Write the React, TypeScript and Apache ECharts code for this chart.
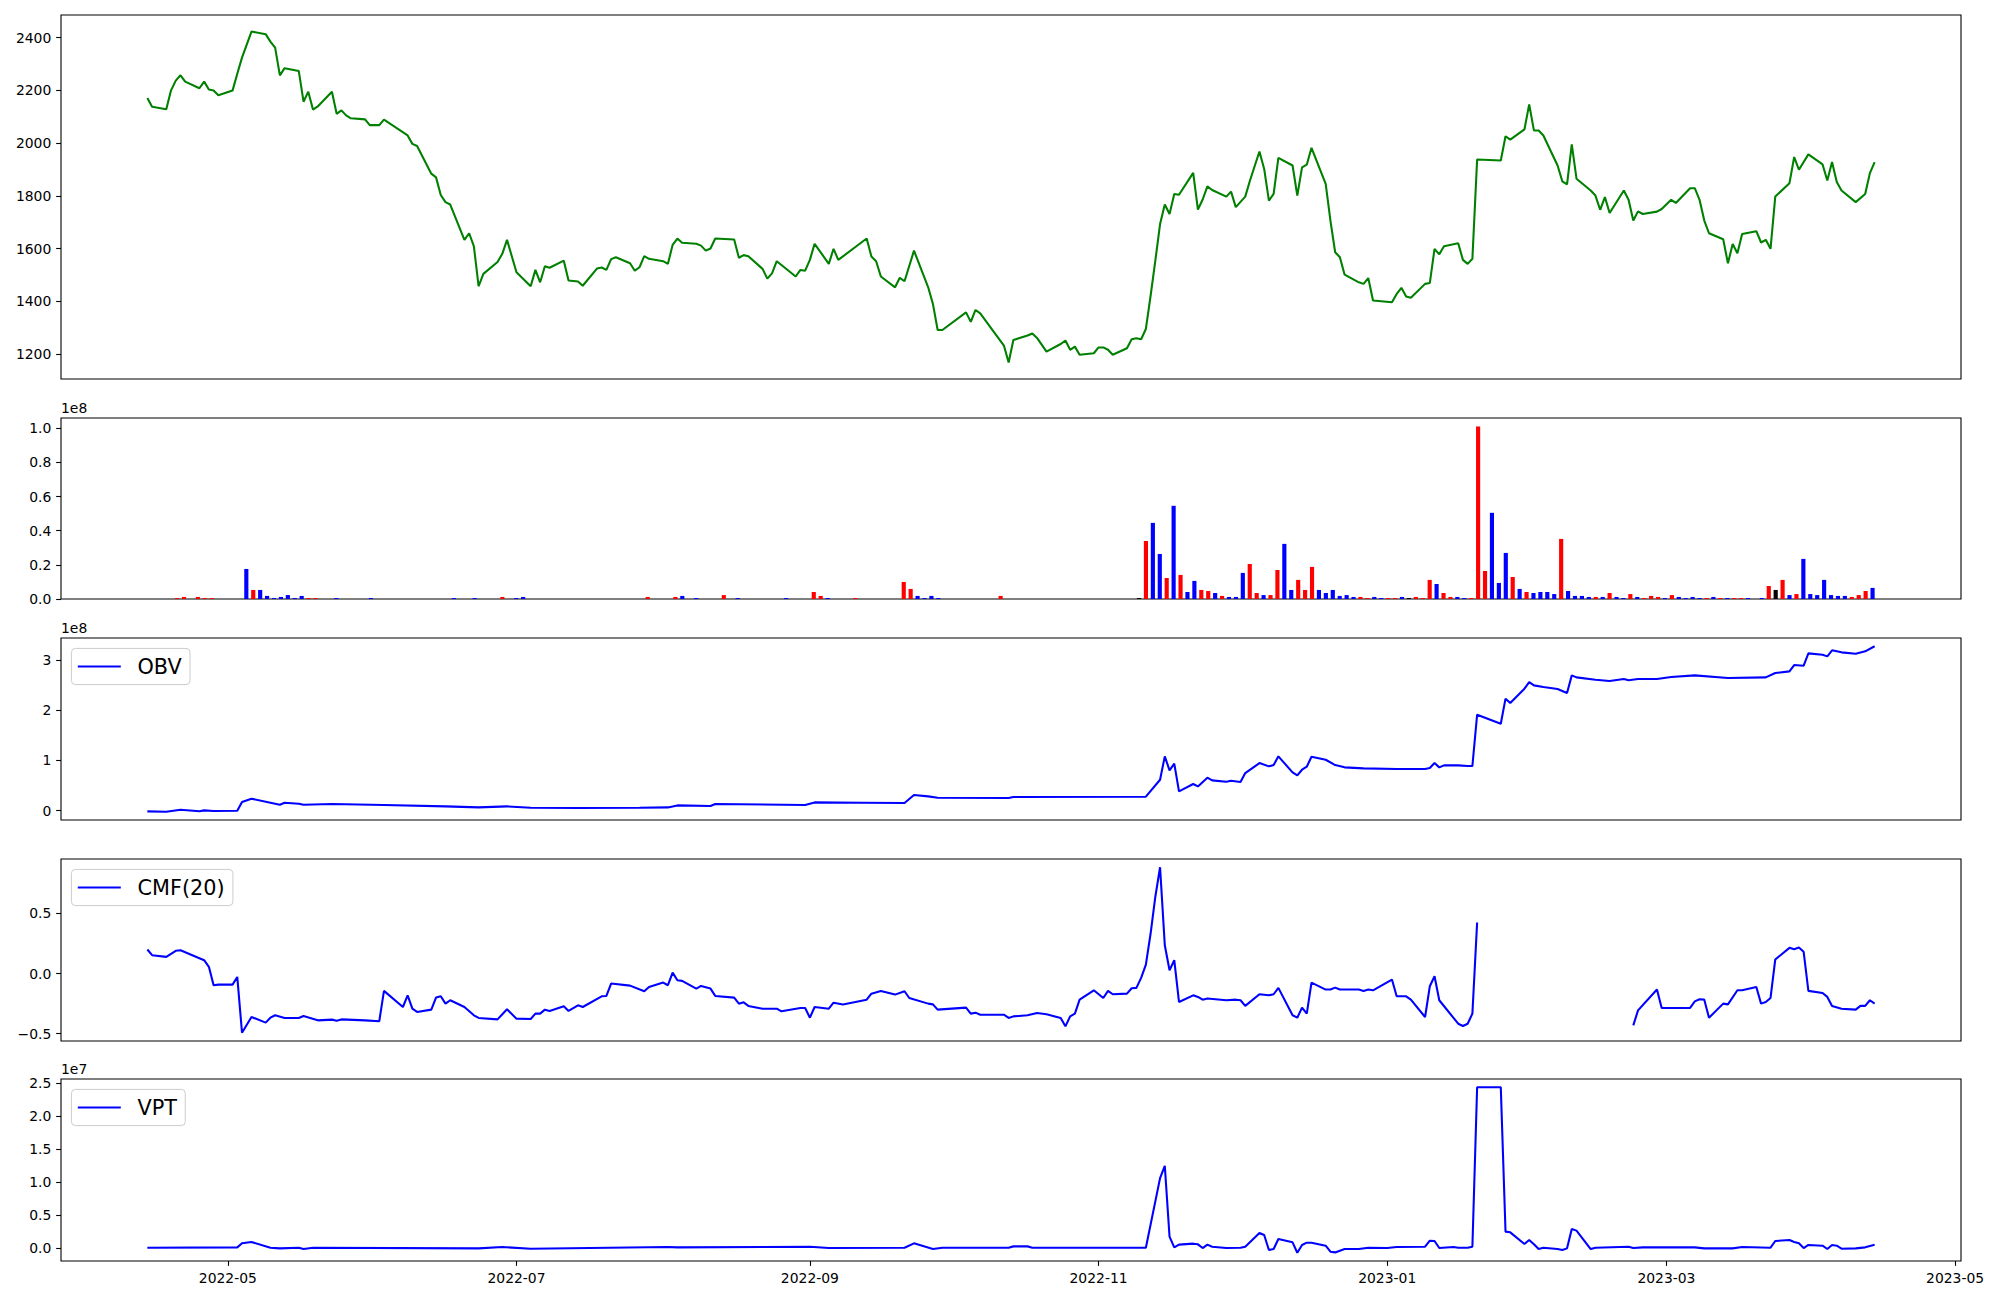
import React, { useEffect, useRef } from 'react';
import * as echarts from 'echarts';

// ---------- data (x = calendar days since START_DATE; volume x = trading-day index) ----------
const START_DATE = '2022-04-14';
const TRADING_DAYS = 250;
const xTickLabels = ['2022-05', '2022-07', '2022-09', '2022-11', '2023-01', '2023-03', '2023-05'];
const priceTicks = [1200, 1400, 1600, 1800, 2000, 2200, 2400];
const volumeTicks = [0, 0.2, 0.4, 0.6, 0.8, 1.0];
const obvTicks = [0, 1, 2, 3];
const cmfTicks = [-0.5, 0, 0.5];
const vptTicks = [0, 0.5, 1, 1.5, 2, 2.5];

const pricePoints: [number, number][] = [
  [0, 2171], [1, 2138], [4, 2128], [5, 2200], [6, 2237], [7, 2257], [8, 2233], [11, 2208], [12, 2233], [13, 2203],
  [14, 2199], [15, 2181], [18, 2199], [19, 2263], [20, 2324], [22, 2423], [25, 2413], [26, 2385], [27, 2362], [28, 2257],
  [29, 2284], [32, 2273], [33, 2157], [34, 2195], [35, 2127], [36, 2139], [39, 2195], [40, 2111], [41, 2124], [42, 2105],
  [43, 2094], [46, 2090], [47, 2068], [49, 2068], [50, 2089], [55, 2029], [56, 1997], [57, 1989], [60, 1884], [61, 1870],
  [62, 1803], [63, 1776], [64, 1767], [67, 1633], [68, 1658], [69, 1608], [70, 1457], [71, 1504], [74, 1549], [75, 1580],
  [76, 1633], [78, 1510], [81, 1457], [82, 1519], [83, 1472], [84, 1533], [85, 1527], [88, 1554], [89, 1479], [91, 1475],
  [92, 1459], [95, 1524], [96, 1528], [97, 1519], [98, 1560], [99, 1567], [102, 1544], [103, 1516], [104, 1529], [105, 1571],
  [106, 1561], [109, 1552], [110, 1542], [111, 1614], [112, 1638], [113, 1622], [116, 1618], [117, 1611], [118, 1592], [119, 1600],
  [120, 1638], [124, 1634], [125, 1565], [126, 1575], [127, 1571], [130, 1523], [131, 1486], [132, 1506], [133, 1552], [137, 1494],
  [138, 1519], [139, 1516], [140, 1557], [141, 1618], [144, 1542], [145, 1599], [146, 1557], [152, 1638], [153, 1570], [154, 1552],
  [155, 1494], [158, 1453], [159, 1489], [160, 1476], [162, 1592], [165, 1453], [166, 1390], [167, 1291], [168, 1291], [173, 1358],
  [174, 1322], [175, 1367], [176, 1354], [181, 1232], [182, 1168], [183, 1253], [186, 1270], [187, 1278], [188, 1261], [190, 1209],
  [193, 1238], [194, 1251], [195, 1216], [196, 1228], [197, 1197], [200, 1203], [201, 1225], [202, 1225], [203, 1216], [204, 1197],
  [207, 1222], [208, 1256], [209, 1260], [210, 1256], [211, 1295], [212, 1421], [213, 1554], [214, 1693], [215, 1767], [216, 1731],
  [217, 1807], [218, 1804], [221, 1887], [222, 1748], [223, 1786], [224, 1836], [225, 1822], [228, 1797], [229, 1816], [230, 1757],
  [232, 1797], [233, 1858], [235, 1968], [236, 1902], [237, 1782], [238, 1807], [239, 1944], [242, 1915], [243, 1801], [244, 1908],
  [245, 1918], [246, 1982], [249, 1845], [250, 1706], [251, 1586], [252, 1567], [253, 1501], [256, 1472], [257, 1466], [258, 1488],
  [259, 1403], [263, 1396], [264, 1428], [265, 1451], [266, 1418], [267, 1413], [270, 1466], [271, 1469], [272, 1599], [273, 1578],
  [274, 1609], [277, 1620], [278, 1557], [279, 1542], [280, 1561], [281, 1938], [286, 1934], [287, 2026], [288, 2013], [291, 2052],
  [292, 2147], [293, 2048], [294, 2048], [295, 2029], [298, 1915], [299, 1855], [300, 1843], [301, 1995], [302, 1865], [305, 1820],
  [306, 1801], [307, 1747], [308, 1795], [309, 1735], [312, 1820], [313, 1785], [314, 1706], [315, 1741], [316, 1731], [319, 1740],
  [320, 1750], [322, 1785], [323, 1773], [326, 1829], [327, 1829], [328, 1785], [329, 1706], [330, 1658], [333, 1635], [334, 1544],
  [335, 1617], [336, 1582], [337, 1655], [340, 1666], [341, 1623], [342, 1633], [343, 1599], [344, 1797], [347, 1848], [348, 1947],
  [349, 1899], [351, 1957], [354, 1919], [355, 1858], [356, 1928], [357, 1852], [358, 1820], [361, 1776], [363, 1807], [364, 1886],
  [365, 1928],
];

// volume in units of 1e8, keyed by trading-day index
const volumeUp: [number, number][] = [
  [4, 0.006], [5, 0.012], [7, 0.012], [8, 0.006], [9, 0.006], [15, 0.053], [23, 0.006], [24, 0.006], [51, 0.012], [72, 0.012],
  [76, 0.012], [83, 0.023], [96, 0.041], [97, 0.018], [102, 0.006], [109, 0.1], [110, 0.059], [123, 0.018], [144, 0.34], [147, 0.123],
  [149, 0.141], [152, 0.053], [153, 0.047], [155, 0.018], [159, 0.205], [160, 0.035], [162, 0.023], [163, 0.17], [166, 0.112], [167, 0.053],
  [168, 0.188], [175, 0.012], [176, 0.006], [179, 0.006], [180, 0.006], [183, 0.012], [184, 0.006], [185, 0.112], [187, 0.035], [188, 0.012],
  [191, 0.006], [192, 1.01], [193, 0.164], [197, 0.129], [199, 0.041], [204, 0.352], [209, 0.012], [211, 0.035], [214, 0.029], [216, 0.006],
  [217, 0.018], [218, 0.012], [220, 0.023], [225, 0.006], [227, 0.006], [229, 0.006], [230, 0.006], [234, 0.076], [236, 0.112], [238, 0.029],
  [246, 0.012], [247, 0.023], [248, 0.047],
];
const volumeDown: [number, number][] = [
  [14, 0.176], [16, 0.053], [17, 0.018], [18, 0.006], [19, 0.012], [20, 0.023], [21, 0.006], [22, 0.018], [27, 0.006], [32, 0.006],
  [44, 0.006], [47, 0.006], [53, 0.006], [54, 0.012], [77, 0.018], [79, 0.006], [85, 0.006], [92, 0.006], [98, 0.006], [111, 0.018],
  [112, 0.006], [113, 0.018], [114, 0.006], [145, 0.446], [146, 0.264], [148, 0.546], [150, 0.041], [151, 0.106], [154, 0.035], [156, 0.012],
  [157, 0.012], [158, 0.153], [161, 0.023], [164, 0.323], [165, 0.053], [169, 0.053], [170, 0.035], [171, 0.053], [172, 0.018], [173, 0.023],
  [174, 0.012], [177, 0.012], [178, 0.006], [181, 0.012], [186, 0.088], [189, 0.012], [190, 0.006], [194, 0.505], [195, 0.094], [196, 0.27],
  [198, 0.059], [200, 0.035], [201, 0.041], [202, 0.041], [203, 0.029], [205, 0.047], [206, 0.018], [207, 0.018], [208, 0.012], [210, 0.012],
  [212, 0.012], [213, 0.006], [215, 0.012], [219, 0.006], [221, 0.012], [222, 0.006], [223, 0.012], [224, 0.006], [226, 0.012], [228, 0.006],
  [231, 0.006], [233, 0.006], [237, 0.023], [239, 0.235], [240, 0.029], [241, 0.023], [242, 0.112], [243, 0.023], [244, 0.018], [245, 0.018],
  [249, 0.065],
];
const volumeFlat: [number, number][] = [[143, 0.006], [182, 0.006], [235, 0.053]];

// OBV in units of 1e8
const obvPoints: [number, number][] = [
  [0, -0.013], [4, -0.02], [7, 0.02], [11, -0.01], [12, 0.007], [14, -0.007], [19, 0], [20, 0.173], [22, 0.239], [28, 0.119],
  [29, 0.159], [32, 0.139], [33, 0.119], [39, 0.133], [50, 0.113], [63, 0.086], [70, 0.066], [76, 0.086], [81, 0.06], [91, 0.053],
  [104, 0.06], [110, 0.066], [112, 0.106], [119, 0.093], [120, 0.133], [139, 0.113], [141, 0.166], [151, 0.159], [160, 0.153], [162, 0.312],
  [165, 0.285], [167, 0.259], [182, 0.252], [183, 0.272], [211, 0.279], [214, 0.617], [215, 1.082], [216, 0.803], [217, 0.936], [218, 0.385],
  [221, 0.531], [222, 0.484], [224, 0.657], [225, 0.604], [228, 0.577], [229, 0.597], [231, 0.571], [232, 0.75], [235, 0.949], [237, 0.883],
  [238, 0.909], [239, 1.082], [242, 0.763], [243, 0.703], [244, 0.816], [245, 0.876], [246, 1.075], [249, 1.015], [251, 0.909], [253, 0.863],
  [257, 0.843], [264, 0.829], [270, 0.829], [271, 0.849], [272, 0.949], [273, 0.863], [274, 0.902], [277, 0.902], [279, 0.889], [280, 0.889],
  [281, 1.911], [286, 1.732], [287, 2.23], [288, 2.143], [291, 2.429], [292, 2.561], [293, 2.495], [295, 2.462], [298, 2.422], [300, 2.342],
  [301, 2.694], [302, 2.654], [306, 2.608], [309, 2.581], [312, 2.621], [313, 2.595], [315, 2.621], [319, 2.621], [322, 2.661], [327, 2.694],
  [334, 2.641], [342, 2.654], [344, 2.741], [347, 2.774], [348, 2.9], [350, 2.886], [351, 3.132], [354, 3.106], [355, 3.072], [356, 3.192],
  [358, 3.152], [361, 3.125], [363, 3.172], [365, 3.273],
];

// CMF(20): two segments (undefined values in between)
const cmfPointsA: [number, number][] = [
  [0, 0.2], [1, 0.153], [4, 0.139], [6, 0.189], [7, 0.194], [12, 0.111], [13, 0.056], [14, -0.097], [15, -0.092], [18, -0.092],
  [19, -0.028], [20, -0.492], [22, -0.361], [25, -0.408], [26, -0.367], [27, -0.347], [29, -0.369], [32, -0.369], [33, -0.353], [36, -0.389],
  [39, -0.383], [40, -0.392], [41, -0.381], [46, -0.389], [49, -0.397], [50, -0.144], [54, -0.278], [55, -0.181], [56, -0.292], [57, -0.319],
  [60, -0.3], [61, -0.2], [62, -0.189], [63, -0.25], [64, -0.222], [67, -0.278], [69, -0.347], [70, -0.369], [74, -0.381], [76, -0.297],
  [78, -0.375], [81, -0.378], [82, -0.333], [83, -0.333], [84, -0.3], [85, -0.311], [88, -0.272], [89, -0.311], [91, -0.264], [92, -0.278],
  [96, -0.189], [97, -0.186], [98, -0.083], [102, -0.1], [105, -0.147], [106, -0.111], [109, -0.075], [110, -0.097], [111, 0.008], [112, -0.056],
  [113, -0.061], [116, -0.125], [117, -0.103], [119, -0.125], [120, -0.186], [124, -0.2], [125, -0.25], [126, -0.239], [127, -0.269], [130, -0.292],
  [133, -0.292], [134, -0.314], [138, -0.286], [139, -0.286], [140, -0.367], [141, -0.278], [144, -0.292], [145, -0.242], [147, -0.258], [152, -0.217],
  [153, -0.167], [155, -0.144], [158, -0.175], [160, -0.147], [161, -0.203], [165, -0.25], [166, -0.256], [167, -0.3], [173, -0.283], [174, -0.333],
  [175, -0.325], [176, -0.342], [181, -0.342], [182, -0.369], [183, -0.356], [186, -0.347], [188, -0.328], [190, -0.339], [193, -0.369], [194, -0.439],
  [195, -0.356], [196, -0.333], [197, -0.217], [200, -0.139], [202, -0.203], [203, -0.144], [204, -0.172], [207, -0.167], [208, -0.122], [209, -0.119],
  [210, -0.036], [211, 0.075], [212, 0.333], [213, 0.639], [214, 0.884], [215, 0.236], [216, 0.028], [217, 0.111], [218, -0.236], [221, -0.181],
  [222, -0.194], [223, -0.217], [224, -0.208], [228, -0.222], [230, -0.217], [231, -0.222], [232, -0.269], [235, -0.172], [237, -0.181], [238, -0.172],
  [239, -0.119], [242, -0.347], [243, -0.367], [244, -0.283], [245, -0.333], [246, -0.075], [249, -0.133], [250, -0.133], [251, -0.117], [252, -0.133],
  [256, -0.133], [257, -0.144], [258, -0.133], [259, -0.139], [263, -0.05], [264, -0.189], [266, -0.189], [267, -0.217], [270, -0.361], [271, -0.106],
  [272, -0.022], [273, -0.222], [277, -0.417], [278, -0.436], [279, -0.417], [280, -0.333], [281, 0.425],
];
const cmfPointsB: [number, number][] = [
  [314, -0.431], [315, -0.306], [319, -0.133], [320, -0.286], [326, -0.286], [327, -0.231], [328, -0.214], [329, -0.217], [330, -0.367], [333, -0.25],
  [334, -0.256], [336, -0.139], [337, -0.139], [340, -0.111], [341, -0.25], [342, -0.236], [343, -0.203], [344, 0.117], [347, 0.214], [348, 0.203],
  [349, 0.217], [350, 0.181], [351, -0.144], [354, -0.161], [355, -0.194], [356, -0.269], [358, -0.292], [361, -0.3], [362, -0.269], [363, -0.269],
  [364, -0.222], [365, -0.25],
];

// VPT in units of 1e7
const vptPoints: [number, number][] = [
  [0, 0.01], [19, 0.015], [20, 0.076], [22, 0.096], [26, 0.01], [28, 0], [32, 0.01], [33, -0.01], [35, 0.01], [70, 0],
  [75, 0.02], [81, -0.005], [110, 0.02], [112, 0.015], [140, 0.025], [144, 0.005], [160, 0.01], [162, 0.076], [166, -0.01], [168, 0.01],
  [182, 0.01], [183, 0.03], [186, 0.03], [187, 0.01], [211, 0.01], [214, 1.061], [215, 1.247], [216, 0.177], [217, 0.015], [218, 0.056],
  [221, 0.071], [222, 0.061], [223, 0.005], [224, 0.056], [225, 0.025], [228, 0.005], [231, 0.01], [232, 0.025], [235, 0.232], [236, 0.202],
  [237, -0.025], [238, -0.01], [239, 0.141], [242, 0.091], [243, -0.066], [244, 0.051], [245, 0.086], [246, 0.086], [249, 0.04], [250, -0.05],
  [251, -0.061], [253, -0.01], [256, -0.01], [258, 0.01], [262, 0.005], [264, 0.02], [270, 0.025], [271, 0.116], [272, 0.111], [273, 0.005],
  [276, 0.02], [277, 0.01], [279, 0.01], [280, 0.025], [281, 2.434], [286, 2.434], [287, 0.253], [288, 0.242], [291, 0.066], [292, 0.126],
  [293, 0.061], [294, -0.01], [295, 0.01], [298, -0.01], [299, -0.025], [300, 0], [301, 0.293], [302, 0.268], [305, -0.01], [306, 0.01],
  [313, 0.025], [314, 0.005], [316, 0.015], [327, 0.015], [329, 0], [335, 0], [337, 0.02], [343, 0.01], [344, 0.111], [347, 0.126],
  [348, 0.096], [349, 0.076], [350, 0.005], [351, 0.051], [354, 0.04], [355, -0.01], [356, 0.051], [357, 0.04], [358, -0.005], [361, 0],
  [363, 0.015], [365, 0.056],
];

// ---------- layout / style ----------
const FONT = 'DejaVu Sans';
const TICK_FS = 13.9;
const LEG_FS = 20.8;
const GRID_LEFT = 61;
const GRID_WIDTH = 1900;
const GRID_TOPS = [15, 418, 638, 859, 1079];
const GRID_HEIGHTS = [364, 181, 182, 182, 182];
const LINE_W = 2.08;
const BAR_WIDTH_UNITS = 0.6;

function dayOf(label: string): number {
  const [y, m] = label.split('-').map(Number);
  const [sy, sm, sd] = START_DATE.split('-').map(Number);
  return Math.round((Date.UTC(y, m - 1, 1) - Date.UTC(sy, sm - 1, sd)) / 86400000);
}

function padded(vals: number[], frac = 0.05): [number, number] {
  const lo = Math.min(...vals);
  const hi = Math.max(...vals);
  const r = hi - lo;
  return [lo - frac * r, hi + frac * r];
}

const fmtNum = (v: number, digits: number) => {
  const s = Math.abs(v).toFixed(digits);
  return (v < -1e-9 ? '\u2212' : '') + s;
};

export default function App() {
  const ref = useRef<HTMLDivElement>(null);

  useEffect(() => {
    document.body.style.margin = '0';
    if (!ref.current) return;
    const chart = echarts.init(ref.current, undefined, { renderer: 'svg' });

    const allDays = pricePoints.map((p) => p[0]);
    const [xMin, xMax] = padded(allDays);
    const lastIdx = TRADING_DAYS - 1;
    const vSpan = lastIdx + BAR_WIDTH_UNITS;
    const vMin = -BAR_WIDTH_UNITS / 2 - 0.05 * vSpan;
    const vMax = lastIdx + BAR_WIDTH_UNITS / 2 + 0.05 * vSpan;
    const barPx = (BAR_WIDTH_UNITS * GRID_WIDTH) / (vMax - vMin);

    const priceR = padded(pricePoints.map((p) => p[1]));
    const volMax = Math.max(...[...volumeUp, ...volumeDown, ...volumeFlat].map((p) => p[1]));
    const obvR = padded(obvPoints.map((p) => p[1]));
    const cmfR = padded([...cmfPointsA, ...cmfPointsB].map((p) => p[1]));
    const vptR = padded(vptPoints.map((p) => p[1]));

    const tickDays = xTickLabels.map(dayOf);

    const grids = GRID_TOPS.map((top, i) => ({
      left: GRID_LEFT,
      width: GRID_WIDTH,
      top,
      height: GRID_HEIGHTS[i],
      show: true,
      borderColor: '#000',
      borderWidth: 1.1,
      backgroundColor: 'transparent',
      containLabel: false,
      outerBoundsMode: 'none',
    }));

    const hiddenX = (gi: number, min: number, max: number) => ({
      type: 'value',
      gridIndex: gi,
      min,
      max,
      show: false,
      axisLine: { show: false, onZero: false },
      splitLine: { show: false },
    });

    const labelStyle = { fontFamily: FONT, fontSize: TICK_FS, color: '#000', margin: 9.7 };
    const tickStyle = (vals: number[]) => ({
      show: true,
      customValues: vals,
      length: 4.86,
      lineStyle: { color: '#000', width: 1.1 },
    });

    const yAxis = (gi: number, range: [number, number], ticks: number[], fmt: (v: number) => string, name?: string) => ({
      type: 'value',
      gridIndex: gi,
      position: 'left',
      min: range[0],
      max: range[1],
      axisLine: { show: false, onZero: false },
      splitLine: { show: false },
      axisTick: tickStyle(ticks),
      axisLabel: { ...labelStyle, customValues: ticks, formatter: (v: number) => fmt(v) },
      name: name || '',
      nameLocation: 'end',
      nameGap: 3,
      nameTextStyle: { fontFamily: FONT, fontSize: TICK_FS, color: '#000', align: 'left', verticalAlign: 'bottom' },
    });

    const lineSeries = (name: string, data: [number, number][], gi: number, color: string) => ({
      type: 'line',
      name,
      xAxisIndex: gi,
      yAxisIndex: gi,
      data,
      showSymbol: false,
      symbol: 'none',
      lineStyle: { color, width: LINE_W },
      itemStyle: { color },
      emphasis: { disabled: true },
    });

    const legendCommon = {
      orient: 'horizontal',
      icon: 'rect',
      itemWidth: 43,
      itemHeight: 2.1,
      padding: [7.6, 8.3, 7.6, 6.4],
      backgroundColor: 'rgba(255,255,255,0.8)',
      borderColor: '#cccccc',
      borderWidth: 1,
      borderRadius: 4,
      selectedMode: false,
      textStyle: { fontFamily: FONT, fontSize: LEG_FS, color: '#000', lineHeight: 21, padding: [0, 0, 0, 11.7] },
    };

    const barData = [
      ...volumeUp.map((p) => ({ value: p, itemStyle: { color: '#ff0000' } })),
      ...volumeDown.map((p) => ({ value: p, itemStyle: { color: '#0000ff' } })),
      ...volumeFlat.map((p) => ({ value: p, itemStyle: { color: '#000000' } })),
    ];

    const option: any = {
      animation: false,
      backgroundColor: '#ffffff',
      textStyle: { fontFamily: FONT },
      grid: grids,
      xAxis: [
        hiddenX(0, xMin, xMax),
        hiddenX(1, vMin, vMax),
        hiddenX(2, xMin, xMax),
        hiddenX(3, xMin, xMax),
        {
          type: 'value',
          gridIndex: 4,
          position: 'bottom',
          min: xMin,
          max: xMax,
          axisLine: { show: false, onZero: false },
          splitLine: { show: false },
          axisTick: tickStyle(tickDays),
          axisLabel: {
            ...labelStyle,
            customValues: tickDays,
            formatter: (v: number) => {
              const i = tickDays.indexOf(Math.round(v));
              return i >= 0 ? xTickLabels[i] : '';
            },
          },
        },
      ],
      yAxis: [
        yAxis(0, priceR, priceTicks, (v) => String(Math.round(v))),
        yAxis(1, [0, volMax * 1.05], volumeTicks, (v) => fmtNum(v, 1), '1e8'),
        yAxis(2, obvR, obvTicks, (v) => fmtNum(v, 0), '1e8'),
        yAxis(3, cmfR, cmfTicks, (v) => fmtNum(v, 1)),
        yAxis(4, vptR, vptTicks, (v) => fmtNum(v, 1), '1e7'),
      ],
      legend: [
        { ...legendCommon, data: ['OBV'], left: 71.4, top: GRID_TOPS[2] + 10.4 },
        { ...legendCommon, data: ['CMF(20)'], left: 71.4, top: GRID_TOPS[3] + 10.4 },
        { ...legendCommon, data: ['VPT'], left: 71.4, top: GRID_TOPS[4] + 10.4 },
      ],
      series: [
        lineSeries('Close', pricePoints, 0, '#008000'),
        {
          type: 'bar',
          name: 'Volume',
          xAxisIndex: 1,
          yAxisIndex: 1,
          data: barData,
          barWidth: barPx,
          emphasis: { disabled: true },
        },
        lineSeries('OBV', obvPoints, 2, '#0000ff'),
        lineSeries('CMF(20)', cmfPointsA, 3, '#0000ff'),
        lineSeries('CMF(20)', cmfPointsB, 3, '#0000ff'),
        lineSeries('VPT', vptPoints, 4, '#0000ff'),
      ],
    };

    chart.setOption(option);
    return () => chart.dispose();
  }, []);

  return <div ref={ref} style={{ width: 2000, height: 1300 }} />;
}
